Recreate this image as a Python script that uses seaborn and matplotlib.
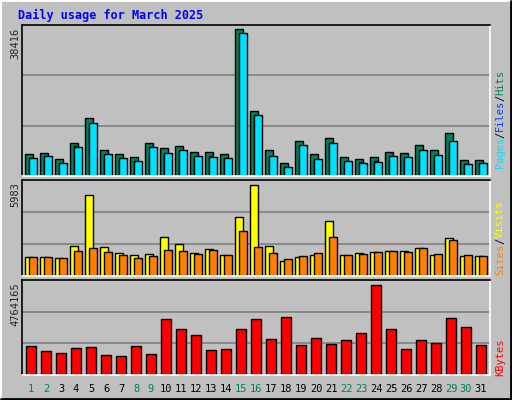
import matplotlib
matplotlib.use("Agg")
import matplotlib.pyplot as plt
import seaborn as sns
import numpy as np

sns.set_style("white")
plt.rcParams['font.family'] = ['DejaVu Sans Mono']

days = list(range(1, 32))
weekend = [1, 2, 8, 9, 15, 16, 22, 23, 29, 30]
hits = [5750, 6010, 4440, 8620, 15160, 6790, 5750, 4970, 8620, 7320, 7840, 6270, 6270, 5750, 38416, 17070, 6790, 3400,
        9150, 5750, 9930, 4970, 4440, 4970, 6270, 6010, 8100, 6790, 11240, 4180, 4180]
files = [3140, 3920, 2870, 7840, 13330, 5490, 4440, 3400, 3920, 5750, 6010, 4440, 5230, 3920, 34750, 15420, 4440, 2350,
         3660, 3660, 8620, 3140, 3660, 3920, 3920, 3920, 4440, 3400, 6270, 3140, 3140]
pages = [4700, 5230, 3400, 7580, 13850, 5750, 4700, 3920, 7580, 6010, 6790, 5230, 4970, 4700, 37370, 15940, 5230, 2350,
         8100, 4440, 8620, 3920, 3400, 3660, 5230, 4970, 6790, 5490, 9150, 3140, 3400]
visits = [1236, 1236, 1171, 1951, 5268, 1886, 1496, 1366, 1431, 2537, 2081, 1496, 1756, 1366, 3837, 5983, 1951, 976,
          1236, 1366, 3577, 1366, 1496, 1561, 1626, 1626, 1821, 1366, 2472, 1301, 1301]
sites = [1236, 1236, 1171, 1626, 1821, 1561, 1366, 1171, 1301, 1691, 1626, 1431, 1691, 1366, 2927, 1886, 1496, 1106,
         1301, 1496, 2537, 1366, 1431, 1561, 1626, 1561, 1821, 1431, 2341, 1366, 1301]
kbytes = [1518, 1256, 1152, 1414, 1466, 1047, 995, 1518, 1099, 2932, 2408, 2094, 1309, 1361, 2408, 2932, 1885, 3036,
          1571, 1937, 1623, 1832, 2199, 4764.165, 2408, 1361, 1832, 1675, 2984, 2513, 1571]
kbytes = [k * 1000 for k in kbytes]

W, H = 512, 400
fig = plt.figure(figsize=(W / 100, H / 100), dpi=100)
fig.patch.set_facecolor("#C0C0C0")
# 3D border
fig.add_artist(plt.Rectangle((0, 0), 1, 1, transform=fig.transFigure, fill=False, ec="#FFFFFF", lw=2))
fig.add_artist(plt.Line2D([1 / W, 1 - 1 / W], [1 / H, 1 / H], transform=fig.transFigure, color="#000000", lw=2))
fig.add_artist(plt.Line2D([1 - 1 / W, 1 - 1 / W], [1 / H, 1 - 1 / H], transform=fig.transFigure, color="#000000", lw=2))

L, R = 22 / W, 490 / W
def mk(top, bot):
    ax = fig.add_axes([L, 1 - bot / H, R - L, (bot - top) / H])
    ax.set_facecolor("#C0C0C0")
    ax.set_xlim(0.4, 31.6)
    for s in ax.spines.values():
        s.set_color("black"); s.set_linewidth(1.2)
    ax.spines['right'].set_color("white"); ax.spines['bottom'].set_color("white")
    ax.set_xticks([]); ax.set_yticks([])
    return ax

x = np.array(days, dtype=float)
kw = dict(edgecolor="black", linewidth=1.0)

ax1 = mk(25, 176)
m1 = max(hits)
ax1.set_ylim(0, m1 * 1.03)
for f in (1 / 3, 2 / 3):
    ax1.axhline(m1 * 1.03 * f, color="#808080", lw=1.2, zorder=0)
ax1.bar(x - 0.13, hits, width=0.5, color="#00805C", **kw)
ax1.bar(x + 0.0, files, width=0.3, color="#0040FF", align="center", **kw)
ax1.bar(x + 0.13, pages, width=0.48, color="#00E0FF", **kw)

ax2 = mk(180, 276)
m2 = max(visits)
ax2.set_ylim(0, m2 * 1.05)
for f in (1 / 3, 2 / 3):
    ax2.axhline(m2 * 1.05 * f, color="#808080", lw=1.2, zorder=0)
ax2.bar(x - 0.13, visits, width=0.5, color="#FFFF00", **kw)
ax2.bar(x + 0.13, sites, width=0.48, color="#FF8000", **kw)

ax3 = mk(280, 375)
m3 = max(kbytes)
ax3.set_ylim(0, m3 * 1.05)
for f in (1 / 3, 2 / 3):
    ax3.axhline(m3 * 1.05 * f, color="#808080", lw=1.2, zorder=0)
ax3.bar(x, kbytes, width=0.68, color="#FF0000", **kw)

# day labels
for d in days:
    xf = L + (d - 0.4) / 31.2 * (R - L)
    fig.text(xf, 1 - 389 / H, str(d), ha="center", va="center", fontsize=7.5,
             color="#00805C" if d in weekend else "#000000")

fig.text(18 / W, 1 - 15 / H, "Daily usage for March 2025", color="#0000FF", fontsize=8.5,
         fontweight="bold", ha="left", va="center")

fs = 7.5
fig.text(15 / W, 1 - 28 / H, "38416", rotation=90, ha="center", va="top", fontsize=fs)
fig.text(15 / W, 1 - 182 / H, "5983", rotation=90, ha="center", va="top", fontsize=fs)
fig.text(15 / W, 1 - 282 / H, "4764165", rotation=90, ha="center", va="top", fontsize=fs)

def rlabel(parts, ybot):
    # parts bottom-to-top
    y = ybot
    for txt, col in parts:
        t = fig.text(500 / W, 1 - y / H, txt, rotation=90, ha="center", va="bottom", fontsize=fs, color=col)
        y -= len(txt) * 6.1
rlabel([("Pages", "#00E0FF"), ("/", "black"), ("Files", "#0040FF"), ("/", "black"), ("Hits", "#00805C")], 168)
rlabel([("Sites", "#FF8000"), ("/", "black"), ("Visits", "#FFFF00")], 275)
rlabel([("KBytes", "#FF0000")], 376)

fig.savefig("out.png", dpi=100, facecolor=fig.get_facecolor())
